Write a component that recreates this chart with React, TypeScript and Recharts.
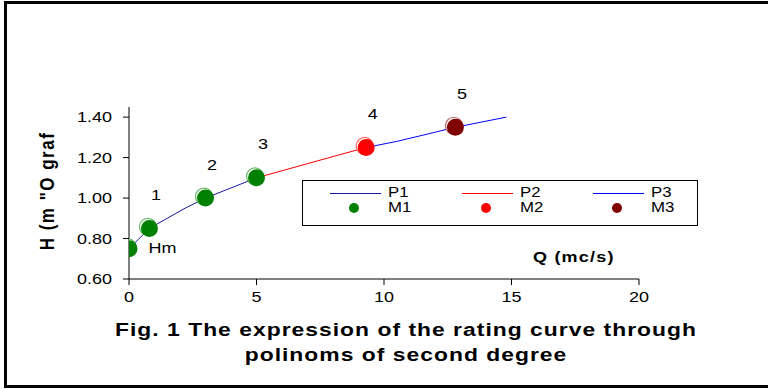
import { LabelList, Scatter, ScatterChart, XAxis, YAxis } from 'recharts'

// curve segments (Q, H)
const p1Curve = [
  { q: 0, h: 0.75 },
  { q: 0.8, h: 0.85 },
  { q: 1.5, h: 0.9 },
  { q: 2.2, h: 0.95 },
  { q: 3, h: 1.0 },
  { q: 4, h: 1.05 },
  { q: 5, h: 1.1 }
]
const p2Curve = [
  { q: 5, h: 1.1 },
  { q: 6, h: 1.135 },
  { q: 7, h: 1.17 },
  { q: 8, h: 1.205 },
  { q: 9.3, h: 1.25 }
]
const p3Curve = [
  { q: 9.3, h: 1.25 },
  { q: 10.5, h: 1.28 },
  { q: 11.5, h: 1.31 },
  { q: 12.8, h: 1.35 },
  { q: 13.6, h: 1.37 },
  { q: 14.8, h: 1.4 }
]

// measured points
const m1Points = [
  { q: 0, h: 0.75, tag: 'Hm' },
  { q: 0.8, h: 0.85, tag: '1' },
  { q: 3, h: 1.0, tag: '2' },
  { q: 5, h: 1.1, tag: '3' }
]
const m2Points = [{ q: 9.3, h: 1.25, tag: '4' }]
const m3Points = [{ q: 12.8, h: 1.35, tag: '5' }]

const xTicks = [0, 5, 10, 15, 20]
const yTicks = [0.6, 0.8, 1.0, 1.2, 1.4]

const font = 'Arial, "Liberation Sans", sans-serif'
const stretch = 1.2

const noShape = () => null

const dotShape = (fill: string, ring: string) => (props: any) => {
  const { cx, cy } = props
  if (cx == null || cy == null) return null
  return (
    <g>
      <circle cx={cx - 1.5} cy={cy - 1.5} r={8.5} fill="#fff" stroke={ring} strokeWidth={1.2} />
      <circle cx={cx} cy={cy} r={8.5} fill={fill} />
    </g>
  )
}

// text drawn a bit wider than tall, like the stretched original
const WideText = ({ x, y, anchor, children }: any) => (
  <text
    transform={`translate(${x},${y}) scale(${stretch},1)`}
    fontSize={15}
    fontFamily={font}
    fill="#000"
    textAnchor={anchor}
  >
    {children}
  </text>
)

const tagLabel = (props: any) => {
  const { x, y, value } = props
  if (value === 'Hm') {
    return (
      <WideText x={x + 24} y={y + 9} anchor="start">
        {value}
      </WideText>
    )
  }
  return (
    <WideText x={x + 11} y={y - 24} anchor="middle">
      {value}
    </WideText>
  )
}

const YTick = (props: any) => {
  const { x, y, payload } = props
  return (
    <WideText x={x - 9} y={y + 5} anchor="end">
      {Number(payload.value).toFixed(2)}
    </WideText>
  )
}

const XTick = (props: any) => {
  const { x, y, payload } = props
  return (
    <WideText x={x} y={y + 15} anchor="middle">
      {payload.value}
    </WideText>
  )
}

function LegendBox() {
  const line = (color: string) => (
    <svg width={51} height={12} style={{ verticalAlign: 'middle' }}>
      <line x1={0} y1={6.5} x2={51} y2={6.5} stroke={color} strokeWidth={1} />
    </svg>
  )
  const dot = (color: string) => (
    <svg width={51} height={12} style={{ verticalAlign: 'middle' }}>
      <circle cx={24} cy={6} r={5} fill={color} />
    </svg>
  )
  const cols = [
    { p: 'P1', pc: '#1a1aa0', m: 'M1', mc: '#008000', left: 27 },
    { p: 'P2', pc: '#ff0000', m: 'M2', mc: '#ff0000', left: 159 },
    { p: 'P3', pc: '#0000ff', m: 'M3', mc: '#800000', left: 290 }
  ]
  return (
    <div
      style={{
        position: 'absolute',
        left: 302,
        top: 180,
        width: 394,
        height: 44,
        border: '1px solid #000',
        background: '#fff',
        fontFamily: font,
        fontSize: 14,
        lineHeight: '15px'
      }}
    >
      {cols.map((c) => (
        <div key={c.p} style={{ position: 'absolute', left: c.left, top: 4, whiteSpace: 'nowrap' }}>
          <div style={{ height: 15 }}>
            {line(c.pc)}
            <span style={{ display: 'inline-block', marginLeft: 7, transform: `scaleX(${stretch})`, transformOrigin: 'left' }}>
              {c.p}
            </span>
          </div>
          <div style={{ height: 15 }}>
            {dot(c.mc)}
            <span style={{ display: 'inline-block', marginLeft: 7, transform: `scaleX(${stretch})`, transformOrigin: 'left' }}>
              {c.m}
            </span>
          </div>
        </div>
      ))}
    </div>
  )
}

export default function App() {
  return (
    <div style={{ position: 'fixed', left: 0, top: 0, width: 768, height: 389, overflow: 'hidden', background: '#fff' }}>
      <div
        style={{
          position: 'absolute',
          left: 4,
          top: 1,
          width: 800,
          height: 381,
          borderTop: '3px solid #000',
          borderLeft: '3px solid #000',
          borderBottom: '3px solid #000'
        }}
      />
      <ScatterChart width={768} height={389} margin={{ top: 107, right: 129, bottom: 80, left: 69 }}>
        <XAxis
          type="number"
          dataKey="q"
          domain={[0, 20]}
          ticks={xTicks}
          height={30}
          stroke="#000"
          tickSize={6}
          tick={<XTick />}
          allowDataOverflow
        />
        <YAxis
          type="number"
          dataKey="h"
          domain={[0.6, 1.45]}
          ticks={yTicks}
          width={60}
          stroke="#000"
          tickSize={6}
          tick={<YTick />}
        />
        <Scatter data={p1Curve} line={{ stroke: '#1a1aa0', strokeWidth: 1 }} shape={noShape} isAnimationActive={false} />
        <Scatter data={p2Curve} line={{ stroke: '#ff0000', strokeWidth: 1 }} shape={noShape} isAnimationActive={false} />
        <Scatter data={p3Curve} line={{ stroke: '#0000ff', strokeWidth: 1 }} shape={noShape} isAnimationActive={false} />
        <Scatter data={m1Points} shape={dotShape('#008000', '#66bb66')} isAnimationActive={false}>
          <LabelList dataKey="tag" content={tagLabel} />
        </Scatter>
        <Scatter data={m2Points} shape={dotShape('#ff0000', '#ff6666')} isAnimationActive={false}>
          <LabelList dataKey="tag" content={tagLabel} />
        </Scatter>
        <Scatter data={m3Points} shape={dotShape('#800000', '#bb6666')} isAnimationActive={false}>
          <LabelList dataKey="tag" content={tagLabel} />
        </Scatter>
      </ScatterChart>
      <LegendBox />
      <div
        style={{
          position: 'absolute',
          left: 48,
          top: 191,
          transform: 'translate(-50%, -50%) rotate(-90deg) scaleY(1.15)',
          whiteSpace: 'nowrap',
          fontFamily: font,
          fontWeight: 'bold',
          fontSize: 17,
          letterSpacing: 1.5
        }}
      >
        H (m "O graf
      </div>
      <div
        style={{
          position: 'absolute',
          left: 533,
          top: 248,
          whiteSpace: 'nowrap',
          fontFamily: font,
          fontWeight: 'bold',
          fontSize: 15,
          letterSpacing: 1,
          transform: `scaleX(${stretch})`,
          transformOrigin: 'left'
        }}
      >
        Q (mc/s)
      </div>
      <div
        style={{
          position: 'absolute',
          left: 0,
          top: 318,
          width: 812,
          textAlign: 'center',
          fontFamily: font,
          fontWeight: 'bold',
          fontSize: 18,
          lineHeight: '25px',
          letterSpacing: 0.8,
          transform: 'scaleX(1.27)',
          transformOrigin: '406px 0'
        }}
      >
        Fig. 1 The expression of the rating curve through
        <br />
        polinoms of second degree
      </div>
    </div>
  )
}
